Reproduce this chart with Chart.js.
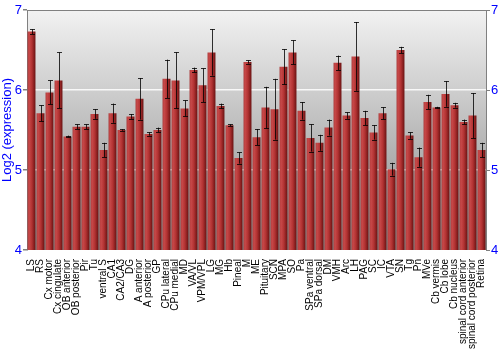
<!DOCTYPE html>
<html>
<head>
<meta charset="utf-8">
<script src="https://cdn.jsdelivr.net/npm/chart.js@4"></script>
<style>
  body { margin: 0; background: #fff; }
  #wrap { width: 500px; height: 350px; }
</style>
</head>
<body>
<div id="wrap"><canvas id="chart"></canvas></div>
<script>
// regions along the x axis
const regions = ['LS', 'RS', 'Cx motor', 'Cx cingulate', 'OB anterior', 'OB posterior', 'Pir', 'Tu',
  'ventral S', 'CA1', 'CA2/CA3', 'DG', 'A anterior', 'A posterior', 'GP', 'CPu lateral', 'CPu medial',
  'MD', 'VA/VL', 'VPM/VPL', 'LG', 'MG', 'Hb', 'Pineal', 'M', 'ME', 'Pituitary', 'SCN', 'MPA', 'SO',
  'Pa', 'SPa ventral', 'SPa dorsal', 'DM', 'VMH', 'Arc', 'LH', 'PAG', 'SC', 'IC', 'VTA', 'SN', 'Tg',
  'Pn', 'MVe', 'Cb vermis', 'Cb lobe', 'Cb nucleus', 'spinal cord anterior', 'spinal cord posterior', 'Retina'];

const expression = [6.73, 5.71, 5.97, 6.12, 5.42, 5.54, 5.54, 5.70,
  5.25, 5.71, 5.50, 5.67, 5.89, 5.45, 5.50, 6.14, 6.12,
  5.77, 6.25, 6.06, 6.47, 5.80, 5.56, 5.15, 6.35, 5.41, 5.78, 5.76, 6.29, 6.47,
  5.74, 5.40, 5.34, 5.53, 6.34, 5.68, 6.42, 5.65, 5.47, 5.71, 5.01, 6.50, 5.43,
  5.16, 5.85, 5.78, 5.95, 5.81, 5.60, 5.68, 5.25];

const errors = [0.03, 0.10, 0.15, 0.35, 0.01, 0.03, 0.03, 0.06,
  0.09, 0.12, 0.01, 0.03, 0.26, 0.02, 0.03, 0.24, 0.35,
  0.10, 0.03, 0.21, 0.29, 0.03, 0.01, 0.07, 0.02, 0.10, 0.26, 0.38, 0.22, 0.15,
  0.11, 0.17, 0.10, 0.10, 0.09, 0.04, 0.43, 0.09, 0.09, 0.075, 0.08, 0.04, 0.04,
  0.12, 0.09, 0.01, 0.16, 0.03, 0.03, 0.28, 0.09];

const yTicks = [4, 5, 6, 7];

const blue = '#0000ff';

// shaded bar, lighter on the left and dark at the right edge
function barFill(ctx) {
  const chart = ctx.chart;
  const x = chart.scales.x;
  if (!x || x.width === undefined) return '#b03030';
  const c = x.getPixelForValue(ctx.dataIndex);
  const w = x.width / regions.length * 0.88;
  const g = chart.ctx.createLinearGradient(c - w / 2, 0, c + w / 2, 0);
  g.addColorStop(0, '#a83636');
  g.addColorStop(0.18, '#c84a4a');
  g.addColorStop(0.55, '#b23232');
  g.addColorStop(1, '#6a1212');
  return g;
}

const backdrop = {
  id: 'backdrop',
  beforeDraw(chart) {
    const a = chart.chartArea, c = chart.ctx;
    const g = c.createLinearGradient(0, a.top, 0, a.bottom);
    g.addColorStop(0, '#f2f2f2');
    g.addColorStop(1, '#868686');
    c.save();
    c.fillStyle = g;
    c.fillRect(a.left, a.top, a.right - a.left, a.bottom - a.top);
    c.strokeStyle = '#808080';
    c.lineWidth = 1;
    c.beginPath();
    c.moveTo(a.left, a.top + 0.5);
    c.lineTo(a.right, a.top + 0.5);
    c.stroke();
    c.restore();
  }
};

const errorBars = {
  id: 'errorBars',
  afterDatasetsDraw(chart) {
    const meta = chart.getDatasetMeta(0);
    const y = chart.scales.y;
    const c = chart.ctx;
    c.save();
    c.strokeStyle = 'rgba(0,0,0,0.8)';
    c.lineWidth = 1;
    meta.data.forEach((bar, i) => {
      const x = Math.round(bar.x) + 0.5;
      const hi = y.getPixelForValue(expression[i] + errors[i]);
      const lo = y.getPixelForValue(expression[i] - errors[i]);
      c.beginPath();
      c.moveTo(x, hi); c.lineTo(x, lo);
      c.moveTo(x - 2.5, Math.round(hi) + 0.5); c.lineTo(x + 2.5, Math.round(hi) + 0.5);
      c.moveTo(x - 2.5, Math.round(lo) + 0.5); c.lineTo(x + 2.5, Math.round(lo) + 0.5);
      c.stroke();
    });
    c.restore();
  }
};

new Chart(document.getElementById('chart'), {
  type: 'bar',
  data: {
    labels: regions,
    datasets: [{
      data: expression,
      backgroundColor: barFill,
      borderWidth: 0,
      barPercentage: 0.88,
      categoryPercentage: 1.0
    }]
  },
  options: {
    responsive: true,
    maintainAspectRatio: false,
    animation: false,
    layout: { padding: { top: 10, right: 0, left: 0, bottom: 0 } },
    plugins: { legend: { display: false }, tooltip: { enabled: false } },
    scales: {
      x: {
        grid: { display: false },
        border: { display: false },
        ticks: {
          autoSkip: false, maxRotation: 90, minRotation: 90, padding: 1,
          color: '#000', font: { family: 'Liberation Sans', size: 10 }
        },
        afterFit(s) { s.height = 100; }
      },
      y: {
        position: 'left',
        min: 4, max: 7,
        afterBuildTicks(s) { s.ticks = yTicks.map(v => ({ value: v })); },
        grid: {
          color: ctx => (ctx.tick && (ctx.tick.value === 5 || ctx.tick.value === 6)) ? 'rgba(255,255,255,0.85)' : 'rgba(0,0,0,0)',
          lineWidth: 1.5,
          tickColor: '#808080', tickLength: 4
        },
        border: { color: '#808080', width: 1 },
        ticks: { color: blue, padding: 1, font: { family: 'Liberation Sans', size: 13 } },
        title: { display: true, text: 'Log2 (expression)', color: blue, padding: 0, font: { family: 'Liberation Sans', size: 13 } },
        afterFit(s) { s.width = 27; }
      },
      y2: {
        position: 'right',
        min: 4, max: 7,
        afterBuildTicks(s) { s.ticks = yTicks.map(v => ({ value: v })); },
        grid: { drawOnChartArea: false, color: '#808080', tickLength: 4 },
        border: { color: '#808080', width: 1 },
        ticks: { color: blue, padding: 1, font: { family: 'Liberation Sans', size: 13 } },
        afterFit(s) { s.width = 14; }
      }
    }
  },
  plugins: [backdrop, errorBars]
});
</script>
</body>
</html>
